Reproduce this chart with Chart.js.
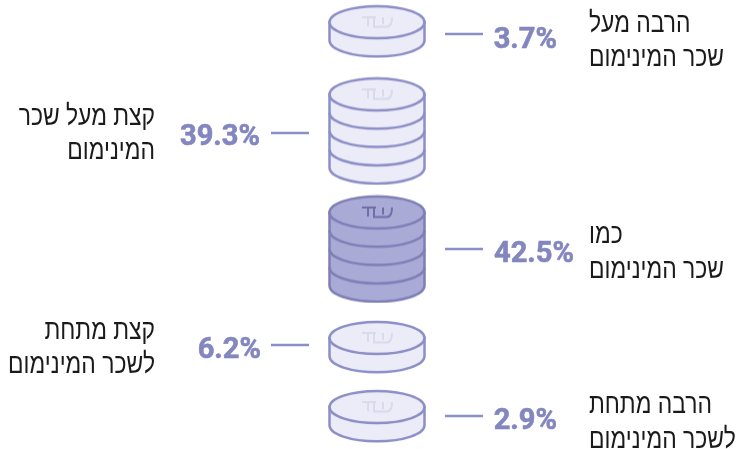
<!DOCTYPE html>
<html lang="he"><head><meta charset="utf-8">
<style>html,body{margin:0;padding:0;background:#fff}#w{width:736px;height:449px}</style>
<script src="https://cdn.jsdelivr.net/npm/chart.js@4"></script>
</head><body><div id="w"><canvas id="c" width="736" height="449"></canvas></div>
<script>
// ---- data ----
const categories = [
  ['הרבה מעל','שכר המינימום'],
  ['קצת מעל שכר','המינימום'],
  ['כמו','שכר המינימום'],
  ['קצת מתחת','לשכר המינימום'],
  ['הרבה מתחת','לשכר המינימום']
];
const shares = [3.7, 39.3, 42.5, 6.2, 2.9];
const coinCounts = [1, 4, 4, 1, 1];
const highlighted = [false, false, true, false, false];

// ---- layout (y scale is measured in coin thicknesses) ----
const coinPx = 18.3, capUnits = 1.75;
const gapsBefore = [0.33, 1.2, 0.7, 1.1, 1.03];
const sides = [1, -1, 1, -1, 1];
const leaderY = [34, 133, 249, 345, 416];
const valueBase = [48, 145, 262, 358, 429];
const valueRight = [557, 260, 574, 261, 557];
const labelBase = [[32,66],[125,159],[243,278],[339,373],[413,448]];
let cursor = 0;
const stackCentres = coinCounts.map((n, i) => {
  const h = capUnits + n, top = cursor + gapsBefore[i];
  cursor = top + h;
  return top + h / 2;
});

function coinImage(n, dark) {
  const rx = 47.5, ry = 16, pad = 2, w = 2*rx + 2*pad + 1, t = n*coinPx;
  const cv = document.createElement('canvas');
  cv.width = w; cv.height = Math.round(2*ry + t + 2*pad);
  const g = cv.getContext('2d'), cx = w/2, cy = pad + ry;
  const fill = dark ? '#a9aad6' : '#ebecf7', stroke = dark ? '#7e7fb6' : '#8c8ec7';
  g.lineWidth = 2.5; g.strokeStyle = stroke; g.fillStyle = fill;
  g.beginPath();
  g.moveTo(cx-rx, cy);
  g.lineTo(cx-rx, cy+t);
  g.ellipse(cx, cy+t, rx, ry, 0, Math.PI, 0, true);
  g.lineTo(cx+rx, cy);
  g.closePath(); g.fill(); g.stroke();
  for (let i = n-1; i >= 1; i--) {
    g.beginPath(); g.ellipse(cx, cy+i*coinPx, rx, ry, 0, Math.PI, 0, true); g.stroke();
  }
  g.beginPath(); g.ellipse(cx, cy, rx, ry, 0, 0, Math.PI*2); g.fill(); g.stroke();
  // shekel mark
  g.strokeStyle = dark ? '#6e6fa8' : '#d9daec'; g.lineWidth = 2;
  const y0 = cy-5, y1 = cy+4;
  g.beginPath();
  g.moveTo(cx-15, y0); g.lineTo(cx-1, y0);
  g.moveTo(cx-9, y0); g.lineTo(cx-9, y1);
  g.moveTo(cx-3, y0); g.lineTo(cx-3, y1+0.5); g.lineTo(cx+10, y1+0.5); g.quadraticCurveTo(cx+15, y1, cx+15, y0);
  g.moveTo(cx+6, y0); g.lineTo(cx+6, y1-2);
  g.stroke();
  return cv;
}
const coinImages = coinCounts.map((n, i) => coinImage(n, highlighted[i]));

const textPlugin = {
  id: 'stackText',
  afterDatasetsDraw(chart) {
    const g = chart.ctx, cx = chart.scales.x.getPixelForValue(0);
    g.save();
    const labelFont = '28px "Liberation Sans"';
    g.font = labelFont; g.direction = 'rtl';
    const squeeze = 135 / g.measureText(categories[0][1]).width;
    shares.forEach((v, i) => {
      const s = sides[i];
      const x0 = s > 0 ? cx + 68 : cx - 106;
      g.strokeStyle = '#8c8ec7'; g.lineWidth = 2.5;
      g.beginPath(); g.moveTo(x0, leaderY[i]); g.lineTo(x0 + 38, leaderY[i]); g.stroke();
      g.direction = 'ltr'; g.textAlign = 'right'; g.textBaseline = 'alphabetic';
      g.font = 'bold 30px Roboto'; g.fillStyle = '#8486bf';
      g.strokeStyle = '#8486bf'; g.lineWidth = 0.6;
      const label = v.toFixed(1) + '%';
      g.save();
      g.translate(valueRight[i], valueBase[i]);
      g.scale(0.97, 1);
      g.fillText(label, 0, 0);
      g.strokeText(label, 0, 0);
      g.restore();
      g.direction = 'rtl'; g.fillStyle = '#1a1a1a';
      g.font = labelFont;
      categories[i].forEach((t, k) => {
        g.save();
        g.translate(s > 0 ? 589 : 155, labelBase[i][k]);
        g.scale(squeeze, 1);
        g.textAlign = s > 0 ? 'left' : 'right';
        g.fillText(t, 0, 0);
        g.restore();
      });
    });
    g.restore();
  }
};

new Chart(document.getElementById('c'), {
  type: 'scatter',
  data: { datasets: [{
    label: 'נתח',
    data: stackCentres.map(y => ({ x: 0, y })),
    pointStyle: ctx => coinImages[ctx.dataIndex],
    pointRadius: 50, pointHoverRadius: 50
  }]},
  options: {
    responsive: false, animation: false, clip: false,
    layout: { autoPadding: false, padding: { left: 18 } },
    plugins: { legend: { display: false }, tooltip: { enabled: false } },
    scales: {
      x: { type: 'linear', min: -1, max: 1, display: false },
      y: { type: 'linear', reverse: true, min: 0, max: 449 / coinPx, display: false }
    }
  },
  plugins: [textPlugin]
});
</script></body></html>
